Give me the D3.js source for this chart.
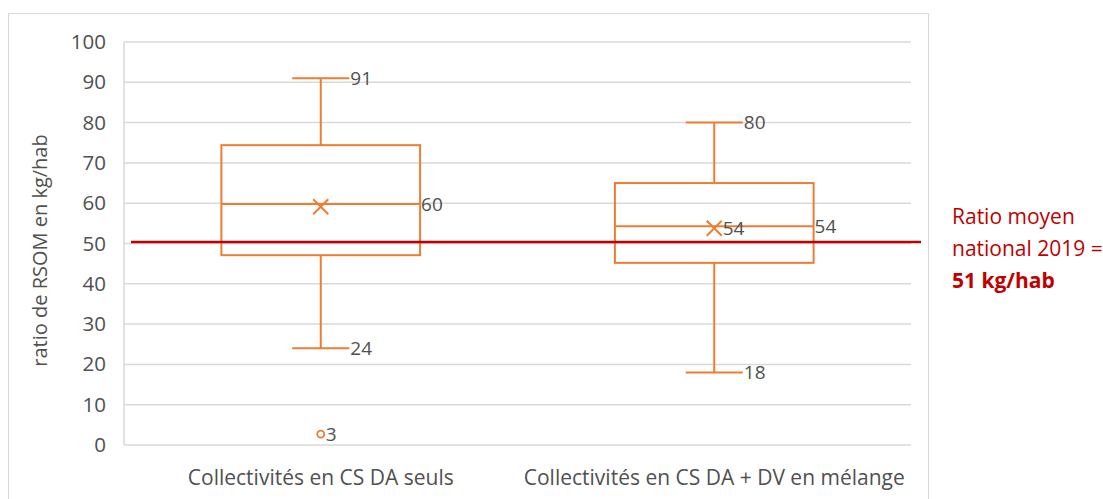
<!DOCTYPE html>
<html><head><meta charset="utf-8">
<script src="https://cdn.jsdelivr.net/npm/d3@7"></script>
<style>body{margin:0;background:#fff}text{font-family:"Open Sans",sans-serif}</style>
</head><body>
<svg id="c" width="1103" height="499"></svg>
<script>
const categories = ["Collectivités en CS DA seuls", "Collectivités en CS DA + DV en mélange"];
const minVals = [24, 18];
const q1Vals = [47.1, 45.2];
const medianVals = [59.8, 54.3];
const q3Vals = [74.4, 65.0];
const maxVals = [91, 80];
const meanVals = [59.1, 53.8];
const outliers = [[2.7], []];
const maxLabels = ["91", "80"];
const minLabels = ["24", "18"];
const medianLabels = ["60", "54"];
const meanLabels = ["", "54"];
const outlierLabels = [["3"], []];
const yTicks = [0, 10, 20, 30, 40, 50, 60, 70, 80, 90, 100];
const refValue = 50.4;
const refLabel = ["Ratio moyen", "national 2019 =", "51 kg/hab"];
const yTitle = "ratio de RSOM en kg/hab";

const orange = "#ED7D31", grid = "#D9D9D9", txt = "#505050", red = "#C00000";
const svg = d3.select("#c");
const L = 124, R = 911, T = 42, B = 445;

svg.append("rect").attr("x", 8.5).attr("y", 13.5).attr("width", 920).attr("height", 500)
  .attr("fill", "none").attr("stroke", grid).attr("stroke-width", 1);

const x = d3.scaleBand().domain(categories).range([L, R]);
const y = d3.scaleLinear().domain([0, 100]).range([B, T]);

// gridlines
svg.append("g").selectAll("line").data(yTicks).join("line")
  .attr("x1", L).attr("x2", R).attr("y1", d => y(d)).attr("y2", d => y(d))
  .attr("stroke", grid).attr("stroke-width", 1.5);
svg.append("line").attr("x1", L).attr("x2", L).attr("y1", T).attr("y2", B)
  .attr("stroke", grid).attr("stroke-width", 1.5);

// y axis labels
const yAxis = d3.axisLeft(y).tickValues(yTicks).tickSize(0).tickPadding(18);
const ga = svg.append("g").attr("transform", `translate(${L},0)`).call(yAxis);
ga.select(".domain").remove();
ga.selectAll("text").attr("fill", txt).style("font-size", "20.5px").style("font-family", "Open Sans");

// x axis labels
const xAxis = d3.axisBottom(x).tickSize(0).tickPadding(0);
const gx = svg.append("g").attr("transform", `translate(0,${B})`).call(xAxis);
gx.select(".domain").remove();
gx.selectAll("text").attr("fill", txt).attr("dy", null).attr("y", 40)
  .style("font-size", "21px").style("font-family", "Open Sans");

// y title
svg.append("text").attr("transform", `translate(47,${(T + B) / 2 + 7}) rotate(-90)`)
  .attr("text-anchor", "middle").attr("fill", txt).style("font-size", "20px").text(yTitle);

const bw = x.bandwidth() * 0.505;
const cw = x.bandwidth() * 0.145;
const cx = i => x(categories[i]) + x.bandwidth() / 2;

const g = svg.append("g");
categories.forEach((c, i) => {
  const xc = cx(i);
  // whiskers
  g.append("line").attr("x1", xc).attr("x2", xc).attr("y1", y(maxVals[i])).attr("y2", y(q3Vals[i]))
    .attr("stroke", orange).attr("stroke-width", 2);
  g.append("line").attr("x1", xc).attr("x2", xc).attr("y1", y(q1Vals[i])).attr("y2", y(minVals[i]))
    .attr("stroke", orange).attr("stroke-width", 2);
  [maxVals[i], minVals[i]].forEach(v => {
    g.append("line").attr("x1", xc - cw / 2).attr("x2", xc + cw / 2).attr("y1", y(v)).attr("y2", y(v))
      .attr("stroke", orange).attr("stroke-width", 2);
  });
  // box
  g.append("rect").attr("x", xc - bw / 2).attr("y", y(q3Vals[i])).attr("width", bw)
    .attr("height", y(q1Vals[i]) - y(q3Vals[i])).attr("fill", "none")
    .attr("stroke", orange).attr("stroke-width", 2);
  g.append("line").attr("x1", xc - bw / 2).attr("x2", xc + bw / 2)
    .attr("y1", y(medianVals[i])).attr("y2", y(medianVals[i])).attr("stroke", orange).attr("stroke-width", 2);
  // mean X
  const m = y(meanVals[i]), s = 7.5;
  g.append("path").attr("d", `M${xc - s},${m - s}L${xc + s},${m + s}M${xc - s},${m + s}L${xc + s},${m - s}`)
    .attr("stroke", orange).attr("stroke-width", 2).attr("fill", "none");
  // outliers
  outliers[i].forEach((v, k) => {
    g.append("circle").attr("cx", xc).attr("cy", y(v)).attr("r", 3.5)
      .attr("fill", "#fff").attr("stroke", orange).attr("stroke-width", 1.8);
    g.append("text").attr("x", xc + 5).attr("y", y(v)).attr("dy", "0.36em")
      .attr("fill", txt).style("font-size", "19px").text(outlierLabels[i][k]);
  });
  // labels
  const lab = (xx, v, t) => { if (t) g.append("text").attr("x", xx).attr("y", y(v)).attr("dy", "0.36em")
      .attr("fill", txt).style("font-size", "19px").text(t); };
  lab(xc + cw / 2 + 1, maxVals[i], maxLabels[i]);
  lab(xc + cw / 2 + 1, minVals[i], minLabels[i]);
  lab(xc + bw / 2 + 1, medianVals[i], medianLabels[i]);
  lab(xc + s + 1, meanVals[i], meanLabels[i]);
});

// reference line
svg.append("line").attr("x1", 131).attr("x2", 921).attr("y1", y(refValue)).attr("y2", y(refValue))
  .attr("stroke", red).attr("stroke-width", 2.5);
const rt = svg.append("text").attr("fill", red).style("font-size", "21px");
refLabel.forEach((t, k) => {
  rt.append("tspan").attr("x", 952).attr("y", 224 + k * 32).style("font-weight", k === 2 ? "bold" : "normal").text(t);
});
</script>
</body></html>
